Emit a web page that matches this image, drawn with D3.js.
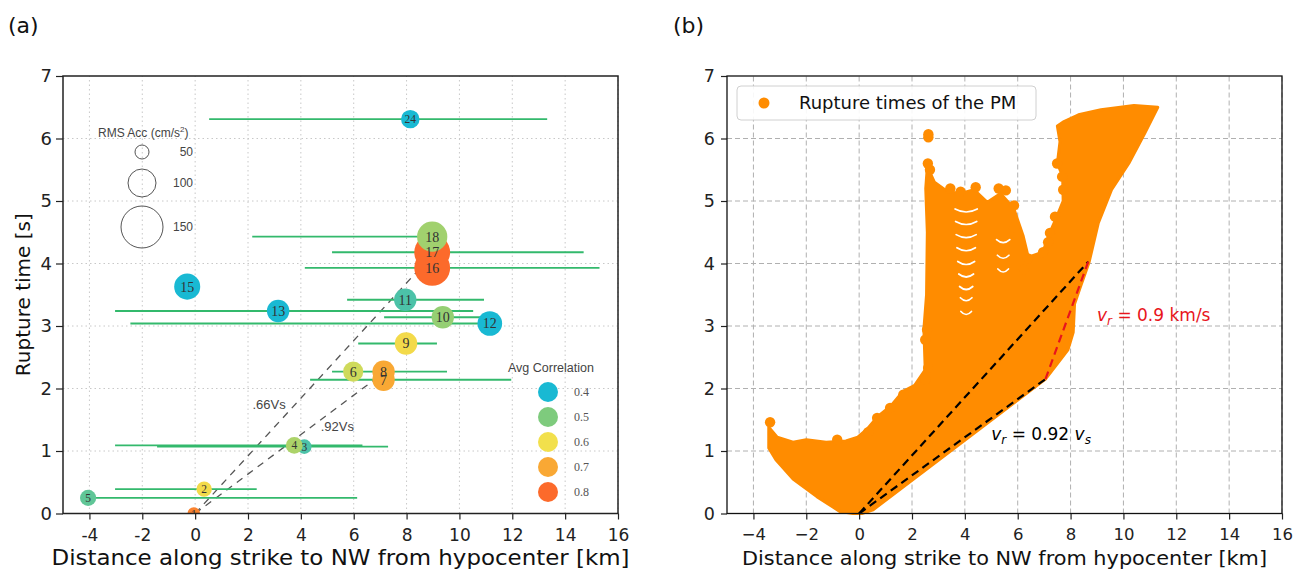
<!DOCTYPE html>
<html>
<head>
<meta charset="utf-8">
<script src="https://cdnjs.cloudflare.com/ajax/libs/d3/7.8.5/d3.min.js"></script>
<style>
  body { margin: 0; background: #fff; }
  svg { display: block; font-family: "DejaVu Sans", sans-serif; }
</style>
</head>
<body>
<script>
// ---- panel (a): stations ----
const stationIds   = [1, 2, 3, 4, 5, 6, 7, 8, 9, 10, 11, 12, 13, 15, 16, 17, 18, 24];
const stationDist  = [-0.05, 0.34, 4.13, 3.75, -4.05, 5.98, 7.13, 7.13, 7.98, 9.37, 7.95, 11.15, 3.14, -0.3, 8.97, 8.97, 8.97, 8.14];
const stationTime  = [0.0, 0.39, 1.07, 1.09, 0.25, 2.27, 2.14, 2.27, 2.72, 3.14, 3.42, 3.04, 3.24, 3.63, 3.93, 4.18, 4.43, 6.31];
const stationRms   = [45, 55, 52, 60, 58, 72, 80, 80, 80, 80, 80, 88, 80, 93, 128, 128, 108, 66];
const stationCorr  = [0.76, 0.61, 0.45, 0.54, 0.47, 0.57, 0.70, 0.70, 0.61, 0.52, 0.45, 0.40, 0.40, 0.40, 0.80, 0.80, 0.53, 0.40];
const rangeMin     = [null, -3.03, -1.44, -3.03, -4.05, 5.18, 4.35, null, 6.17, 7.15, 5.75, -2.45, -3.03, null, 4.15, 5.18, 2.16, 0.53];
const rangeMax     = [null, 2.33, 7.3, 6.33, 6.13, 9.53, 11.96, null, 9.15, 10.9, 10.93, 11.15, 10.52, null, 15.3, 14.7, 8.97, 13.32];

const rmsLegend  = [50, 100, 150];
const corrLegend = [0.4, 0.5, 0.6, 0.7, 0.8];
const corrColors = ["#19b9d3", "#7ecb7d", "#f2e04c", "#f9a834", "#fc6a2b"];

// reference rupture velocity lines (km, s)
const line66 = [[0, 0], [8.35, 3.85]];
const line92 = [[0, 0], [6.75, 2.13]];

// ---- panel (b): rupture times of the PM ----
// outline of the scatter cloud (km, s)
const pmOutline = [
  [-0.23, 0.0], [-0.72, 0.03], [-1.6, 0.27], [-2.5, 0.55], [-3.15, 0.86], [-3.42, 1.05], [-3.42, 1.38],
  [-3.1, 1.22], [-2.5, 1.14], [-2.0, 1.18], [-1.25, 1.14], [-0.5, 1.16], [-0.05, 1.22], [0.3, 1.35],
  [0.7, 1.55], [1.2, 1.72], [1.65, 1.95], [2.1, 2.05], [2.5, 2.3], [2.45, 2.95], [2.55, 3.5],
  [2.58, 4.5], [2.52, 5.2], [2.58, 5.55], [2.85, 5.3], [3.35, 5.15], [3.85, 5.12], [4.35, 5.18],
  [4.85, 4.98], [5.35, 5.12], [5.85, 4.88], [6.2, 4.45], [6.4, 4.1], [6.95, 4.18], [7.2, 4.48],
  [7.45, 4.72], [7.72, 5.0], [7.7, 5.4], [7.5, 5.6], [7.6, 5.95], [7.5, 6.2], [7.75, 6.27],
  [8.3, 6.38], [9.15, 6.46], [10.4, 6.53], [11.3, 6.5], [10.8, 6.08], [10.2, 5.6], [9.55, 5.18],
  [9.05, 4.65], [8.7, 4.02], [8.35, 3.6], [8.15, 3.35], [8.1, 2.9], [7.9, 2.62], [7.05, 2.15],
  [0.53, 0.06], [0.1, 0.0]
];
// single dots sticking out of the cloud
const pmDots = [
  [2.62, 6.02], [2.62, 6.07], [2.6, 5.6], [2.68, 5.5], [3.45, 5.2], [3.84, 5.15], [4.41, 5.22],
  [5.28, 5.2], [5.55, 5.17], [5.86, 4.93], [5.86, 4.58], [6.39, 4.08], [6.24, 3.9],
  [7.49, 5.6], [7.68, 5.39], [7.72, 5.18], [7.41, 4.75], [7.22, 4.49], [6.96, 4.18], [7.15, 4.34],
  [0.68, 1.53], [1.17, 1.69], [1.67, 1.9], [2.5, 2.14], [2.61, 2.33], [2.5, 2.78], [2.57, 2.94],
  [0.34, 1.3], [-3.37, 1.46], [-0.83, 1.18]
];
// white gaps (chevrons) inside the cloud: x, y, half width (km)
const pmGaps = [
  [4.05, 4.84, 0.42], [4.05, 4.64, 0.4], [4.05, 4.43, 0.38], [4.05, 4.22, 0.35], [4.05, 4.0, 0.32],
  [4.05, 3.8, 0.28], [4.05, 3.6, 0.25], [4.05, 3.42, 0.22], [4.05, 3.2, 0.2],
  [5.45, 4.35, 0.25], [5.45, 4.1, 0.22], [5.45, 3.88, 0.2]
];
const fastLine = [[0, 0], [8.67, 4.03]];
const slowLine = [[0, 0], [7.05, 2.15]];
const redLine  = [[7.05, 2.15], [8.67, 4.03]];

const xTicks = [-4, -2, 0, 2, 4, 6, 8, 10, 12, 14, 16];
const yTicks = [0, 1, 2, 3, 4, 5, 6, 7];

const w = 1293;
const h = 570;
const svg = d3.select("body").append("svg").attr("width", w).attr("height", h);

const xA = d3.scaleLinear().domain([-5, 16]).range([63, 618]);
const yA = d3.scaleLinear().domain([0, 7]).range([513.5, 76]);
const xB = d3.scaleLinear().domain([-5, 16]).range([727, 1282]);
const yB = d3.scaleLinear().domain([0, 7]).range([513.5, 76]);

const color = d3.scaleLinear().domain(corrLegend).range(corrColors);
const radius = d3.scaleLinear().domain([0, 150]).range([0, 21]);

function styleAxis(g, size) {
  g.select(".domain").remove();
  g.selectAll("line").attr("stroke", "#222").attr("stroke-width", 1.2);
  g.selectAll("text").attr("font-size", size).attr("fill", "#222")
    .attr("font-family", "DejaVu Sans, sans-serif");
}

// ================= panel (a) =================
const gA = svg.append("g");
svg.append("defs").append("clipPath").attr("id", "clipA")
  .append("rect").attr("x", xA(-5)).attr("y", yA(7)).attr("width", xA(16) - xA(-5)).attr("height", yA(0) - yA(7));

// dotted grid
gA.selectAll(".gx").data(xTicks).enter().append("line")
  .attr("x1", d => xA(d)).attr("x2", d => xA(d)).attr("y1", yA(0)).attr("y2", yA(7))
  .attr("stroke", "#c8c8c8").attr("stroke-width", 1).attr("stroke-dasharray", "1.5,3");
gA.selectAll(".gy").data(yTicks.slice(1, 7)).enter().append("line")
  .attr("x1", xA(-5)).attr("x2", xA(16)).attr("y1", d => yA(d)).attr("y2", d => yA(d))
  .attr("stroke", "#c8c8c8").attr("stroke-width", 1).attr("stroke-dasharray", "1.5,3");

const plotA = gA.append("g").attr("clip-path", "url(#clipA)");

// velocity lines
const lineA = d3.line().x(d => xA(d[0])).y(d => yA(d[1]));
[line66, line92].forEach(l => {
  plotA.append("path").attr("d", lineA(l)).attr("fill", "none")
    .attr("stroke", "#555").attr("stroke-width", 1.3).attr("stroke-dasharray", "7,6");
});
gA.append("text").attr("x", xA(2.17)).attr("y", yA(1.67)).text(".66Vs")
  .attr("font-family", "Liberation Sans, Arial, sans-serif").attr("font-size", 13).attr("fill", "#444");
gA.append("text").attr("x", xA(4.75)).attr("y", yA(1.32)).text(".92Vs")
  .attr("font-family", "Liberation Sans, Arial, sans-serif").attr("font-size", 13).attr("fill", "#444");

const stations = stationIds.map((id, i) => ({
  id: id, x: stationDist[i], t: stationTime[i], rms: stationRms[i], corr: stationCorr[i],
  lo: rangeMin[i], hi: rangeMax[i]
}));

// strike ranges
plotA.selectAll(".range").data(stations.filter(d => d.lo !== null)).enter().append("line")
  .attr("x1", d => xA(d.lo)).attr("x2", d => xA(d.hi))
  .attr("y1", d => yA(d.t)).attr("y2", d => yA(d.t))
  .attr("stroke", "#33b96c").attr("stroke-width", 1.8);

// bubbles
plotA.selectAll(".bubble").data(stations).enter().append("circle")
  .attr("cx", d => xA(d.x)).attr("cy", d => yA(d.t))
  .attr("r", d => radius(d.rms))
  .attr("fill", d => color(d.corr));
plotA.selectAll(".lbl").data(stations).enter().append("text")
  .attr("x", d => xA(d.x)).attr("y", d => yA(d.t))
  .attr("dy", "0.35em").attr("text-anchor", "middle")
  .attr("font-family", "Liberation Serif, Times New Roman, serif")
  .attr("font-size", d => radius(d.rms) > 10 ? 14 : 11.5)
  .attr("fill", "#333")
  .text(d => d.id);

// RMS legend
const rmsTitle = gA.append("text").attr("x", 98).attr("y", 137)
  .attr("font-family", "Liberation Sans, Arial, sans-serif").attr("font-size", 12).attr("fill", "#444");
rmsTitle.append("tspan").text("RMS Acc (cm/s");
rmsTitle.append("tspan").attr("dy", -5).attr("font-size", 8).text("2");
rmsTitle.append("tspan").attr("dy", 5).text(")");
const rmsY = [152, 183, 227];
gA.selectAll(".rmsc").data(rmsLegend).enter().append("circle")
  .attr("cx", 142).attr("cy", (d, i) => rmsY[i]).attr("r", d => radius(d))
  .attr("fill", "none").attr("stroke", "#555").attr("stroke-width", 1);
gA.selectAll(".rmst").data(rmsLegend).enter().append("text")
  .attr("x", 193).attr("y", (d, i) => rmsY[i]).attr("dy", "0.35em").attr("text-anchor", "end")
  .attr("font-family", "Liberation Sans, Arial, sans-serif").attr("font-size", 12).attr("fill", "#444")
  .text(d => d);

// correlation legend
gA.append("text").attr("x", 508).attr("y", 372)
  .attr("font-family", "Liberation Sans, Arial, sans-serif").attr("font-size", 12.5).attr("fill", "#444")
  .text("Avg Correlation");
gA.selectAll(".corc").data(corrLegend).enter().append("circle")
  .attr("cx", 548).attr("cy", (d, i) => 392 + i * 25).attr("r", 10)
  .attr("fill", d => color(d));
gA.selectAll(".cort").data(corrLegend).enter().append("text")
  .attr("x", 574).attr("y", (d, i) => 392 + i * 25).attr("dy", "0.35em")
  .attr("font-family", "Liberation Serif, Times New Roman, serif").attr("font-size", 12).attr("fill", "#555")
  .text(d => d.toFixed(1));

// axes (a)
gA.append("g").attr("transform", `translate(0,${yA(0)})`)
  .call(d3.axisBottom(xA).tickValues(xTicks).tickSize(6).tickPadding(9).tickFormat(d => String(d)))
  .call(g => styleAxis(g, 17));
gA.append("g").attr("transform", `translate(${xA(-5)},0)`)
  .call(d3.axisLeft(yA).tickValues(yTicks).tickSize(7).tickPadding(4).tickFormat(d => String(d)))
  .call(g => styleAxis(g, 18));
gA.append("rect").attr("x", xA(-5)).attr("y", yA(7)).attr("width", xA(16) - xA(-5)).attr("height", yA(0) - yA(7))
  .attr("fill", "none").attr("stroke", "#222").attr("stroke-width", 1.5);

gA.append("text").attr("transform", `translate(30,${(yA(0) + yA(7)) / 2}) rotate(-90)`)
  .attr("text-anchor", "middle").attr("font-size", 20).attr("fill", "#111").text("Rupture time [s]");
gA.append("text").attr("x", (xA(-5) + xA(16)) / 2).attr("y", 565)
  .attr("text-anchor", "middle").attr("font-size", 20.5).attr("fill", "#111")
  .attr("textLength", 578).attr("lengthAdjust", "spacingAndGlyphs")
  .text("Distance along strike to NW from hypocenter [km]");
svg.append("text").attr("x", 8).attr("y", 33).attr("font-size", 22).attr("fill", "#111").text("(a)");

// ================= panel (b) =================
const gB = svg.append("g");
gB.selectAll(".gx").data(xTicks).enter().append("line")
  .attr("x1", d => xB(d)).attr("x2", d => xB(d)).attr("y1", yB(0)).attr("y2", yB(7))
  .attr("stroke", "#b0b0b0").attr("stroke-width", 1).attr("stroke-dasharray", "5,3");
gB.selectAll(".gy").data(yTicks.slice(1, 7)).enter().append("line")
  .attr("x1", xB(-5)).attr("x2", xB(16)).attr("y1", d => yB(d)).attr("y2", d => yB(d))
  .attr("stroke", "#b0b0b0").attr("stroke-width", 1).attr("stroke-dasharray", "5,3");

const lineB = d3.line().x(d => xB(d[0])).y(d => yB(d[1]));
gB.append("path").attr("d", lineB(pmOutline) + "Z")
  .attr("fill", "#ff8c00").attr("stroke", "#ff8c00").attr("stroke-width", 3).attr("stroke-linejoin", "round");
gB.selectAll(".pmdot").data(pmDots).enter().append("circle")
  .attr("cx", d => xB(d[0])).attr("cy", d => yB(d[1])).attr("r", 5.2).attr("fill", "#ff8c00");
gB.selectAll(".gap").data(pmGaps).enter().append("path")
  .attr("d", d => {
    const cx = xB(d[0]), cy = yB(d[1]), hw = xB(d[2]) - xB(0);
    return `M${cx - hw},${cy - 2} Q${cx},${cy + 4} ${cx + hw},${cy - 2}`;
  })
  .attr("fill", "none").attr("stroke", "#fff").attr("stroke-width", 1.7).attr("stroke-linecap", "round");

gB.append("path").attr("d", lineB(fastLine)).attr("fill", "none")
  .attr("stroke", "#000").attr("stroke-width", 2.2).attr("stroke-dasharray", "8,5");
gB.append("path").attr("d", lineB(slowLine)).attr("fill", "none")
  .attr("stroke", "#000").attr("stroke-width", 2.2).attr("stroke-dasharray", "8,5");
gB.append("path").attr("d", lineB(redLine)).attr("fill", "none")
  .attr("stroke", "#e8141c").attr("stroke-width", 2.2).attr("stroke-dasharray", "8,5");

function vrLabel(x, y, fill, rest, sub2) {
  const t = gB.append("text").attr("x", xB(x)).attr("y", yB(y)).attr("font-size", 17).attr("fill", fill);
  t.append("tspan").attr("font-style", "italic").text("v");
  t.append("tspan").attr("font-style", "italic").attr("font-size", 12).attr("dy", 4).text("r");
  t.append("tspan").attr("dy", -4).text(rest);
  if (sub2) {
    t.append("tspan").attr("font-style", "italic").text("v");
    t.append("tspan").attr("font-style", "italic").attr("font-size", 12).attr("dy", 4).text("s");
  }
}
vrLabel(9.0, 3.08, "#e8141c", " = 0.9 km/s", false);
vrLabel(5.0, 1.18, "#000", " = 0.92 ", true);

// legend (b)
gB.append("rect").attr("x", 737).attr("y", 86).attr("width", 299).attr("height", 34).attr("rx", 4)
  .attr("fill", "#fff").attr("fill-opacity", 0.9).attr("stroke", "#d0d0d0");
gB.append("circle").attr("cx", 764).attr("cy", 103).attr("r", 5.5).attr("fill", "#ff8c00");
gB.append("text").attr("x", 799).attr("y", 109).attr("font-size", 18).attr("fill", "#111")
  .text("Rupture times of the PM");

gB.append("g").attr("transform", `translate(0,${yB(0)})`)
  .call(d3.axisBottom(xB).tickValues(xTicks).tickSize(6).tickPadding(9).tickFormat(d3.format("d")))
  .call(g => styleAxis(g, 16.5));
gB.append("g").attr("transform", `translate(${xB(-5)},0)`)
  .call(d3.axisLeft(yB).tickValues(yTicks).tickSize(6).tickPadding(6).tickFormat(d3.format("d")))
  .call(g => styleAxis(g, 17.5));
gB.append("rect").attr("x", xB(-5)).attr("y", yB(7)).attr("width", xB(16) - xB(-5)).attr("height", yB(0) - yB(7))
  .attr("fill", "none").attr("stroke", "#111").attr("stroke-width", 1.3);
gB.append("text").attr("x", (xB(-5) + xB(16)) / 2).attr("y", 565)
  .attr("text-anchor", "middle").attr("font-size", 20).attr("fill", "#111")
  .attr("textLength", 525).attr("lengthAdjust", "spacingAndGlyphs")
  .text("Distance along strike to NW from hypocenter [km]");
svg.append("text").attr("x", 673).attr("y", 33).attr("font-size", 22).attr("fill", "#111").text("(b)");
</script>
</body>
</html>
